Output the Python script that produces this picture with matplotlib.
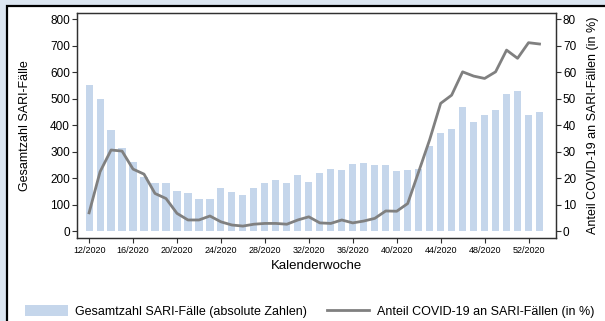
import matplotlib as mpl
mpl.use('Agg')
import matplotlib.pyplot as plt
from matplotlib.patches import Rectangle, Patch
from matplotlib.lines import Line2D
import numpy as np

plt.rcParams['font.family'] = ['Liberation Sans', 'DejaVu Sans']

# Kalenderwochen 12/2020 .. 53/2020
weeks = list(range(12, 54))
sari_cases = [550, 500, 380, 315, 260, 205, 180, 180, 150, 142, 120, 120,
              164, 147, 137, 161, 181, 192, 181, 213, 185, 220, 233, 231,
              252, 258, 249, 248, 226, 229, 233, 321, 369, 387, 467, 411,
              439, 457, 517, 527, 439, 448]
covid_share = [6.9, 22.4, 30.6, 30.2, 23.4, 21.5, 14.2, 12.3, 6.7, 4.2, 4.2, 5.7,
               3.5, 2.3, 1.9, 2.6, 2.9, 2.9, 2.6, 4.2, 5.4, 3.1, 2.9, 4.2,
               3.1, 3.8, 4.8, 7.6, 7.5, 10.4, 22.4, 34.5, 48.2, 51.3, 60.1, 58.5,
               57.6, 60.1, 68.3, 65.2, 71.1, 70.6]
tick_weeks = list(range(12, 53, 4))
tick_labels = ['%d/2020' % w for w in tick_weeks]

bar_color = '#c5d6eb'
line_color = '#808080'
spine_color = '#303030'

fig = plt.figure(figsize=(6.05, 3.21), dpi=100)
fig.patch.set_facecolor('#dce6f1')

# white panel with black frame, running off the right and bottom edges
fig.patches.append(Rectangle((7 / 605, -0.1), 1.0, 1.1 - 6 / 321,
                             transform=fig.transFigure, facecolor='white',
                             edgecolor='black', linewidth=1.6, zorder=-5))

ax = fig.add_axes([77 / 605, 1 - 238 / 321, (556 - 77) / 605, (238 - 13) / 321])
ax.set_facecolor('none')
ax.bar(weeks, sari_cases, width=0.65, color=bar_color, zorder=2)
ax.set_xlim(10.9, 54.5)
ax.set_ylim(-26, 823)
ax.set_yticks(range(0, 801, 100))
ax.set_xticks(tick_weeks)
ax.set_xticklabels(tick_labels, fontsize=6.5)
ax.tick_params(axis='y', labelsize=8.5, length=3.5, color=spine_color, pad=1.5)
ax.tick_params(axis='x', length=3.5, color=spine_color, pad=2)
ax.set_ylabel('Gesamtzahl SARI-Fälle', fontsize=9, labelpad=14)
ax.set_xlabel('Kalenderwoche', fontsize=9.5, labelpad=4)

ax2 = ax.twinx()
ax2.plot(weeks, covid_share, color=line_color, linewidth=2.0, zorder=3)
ax2.set_ylim(-2.6, 82.3)
ax2.set_yticks(range(0, 81, 10))
ax2.tick_params(axis='y', labelsize=8.5, length=3.5, color=spine_color, pad=1.5)
ax2.set_ylabel('Anteil COVID-19 an SARI-Fällen (in %)', fontsize=9, labelpad=8)

for a in (ax, ax2):
    for s in a.spines.values():
        s.set_color(spine_color)
        s.set_linewidth(0.9)

handles = [Patch(facecolor=bar_color, edgecolor='none'),
           Line2D([0], [0], color=line_color, linewidth=2.0)]
labels = ['Gesamtzahl SARI-Fälle (absolute Zahlen)',
          'Anteil COVID-19 an SARI-Fällen (in %)']
fig.legend(handles, labels, loc='lower left', bbox_to_anchor=(25 / 605, 0.01),
           ncol=2, frameon=False, fontsize=9, handlelength=3.4,
           handleheight=0.9, handletextpad=0.6, columnspacing=1.6,
           borderaxespad=0, borderpad=0)

fig.savefig('out.png', dpi=100, facecolor=fig.get_facecolor())
